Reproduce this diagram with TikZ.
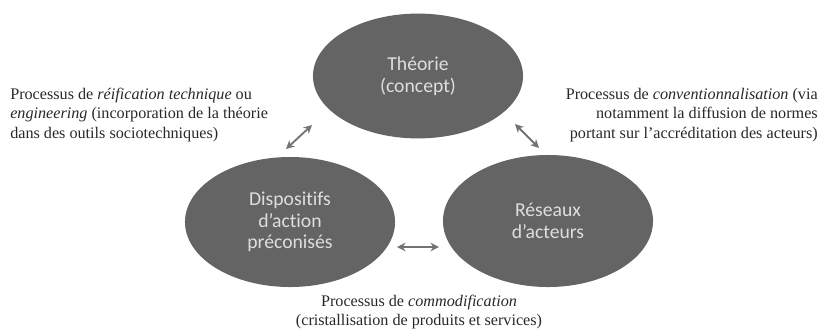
\documentclass[tikz,border=0pt]{standalone}
\usepackage{fontspec}
\setmainfont{Liberation Serif}
\newfontfamily\bulle[Ligatures=CommonOff]{Carlito}
\usetikzlibrary{shapes.geometric, arrows.meta}

\definecolor{grisbulle}{RGB}{100,100,100}
\definecolor{grisfleche}{RGB}{115,115,115}
\definecolor{gristexte}{RGB}{40,40,40}

\begin{document}
\begin{tikzpicture}[x=0.025cm, y=-0.025cm,
        bulle/.style={ellipse, fill=grisbulle, text=black!13, inner sep=0pt,
            minimum width=5.25cm, align=center,
            font=\bulle\fontsize{14}{15.5}\selectfont},
        processus/.style={text=gristexte, inner sep=0pt,
            font=\fontsize{11.5}{13.8}\selectfont},
        fleche/.style={{Stealth[length=6pt,width=6pt]}-{Stealth[length=6pt,width=6pt]},
            grisfleche, line width=1.3pt}]
        % Cadre
        \useasboundingbox (0,0) rectangle (831,332);

        % Bulles
        \node[bulle, minimum height=3.12cm] (theorie) at (418,76) {Théorie\\(concept)};
        \node[bulle, minimum height=3.25cm] (dispositifs) at (290,222) {Dispositifs\\d’action\\préconisés};
        \node[bulle, minimum height=3.3cm] (reseaux) at (548,221) {Réseaux\\d’acteurs};

        % Extremites des fleches
        \coordinate (tg) at (312,125);
        \coordinate (dg) at (286,149);
        \coordinate (td) at (515,124);
        \coordinate (rd) at (539,148);
        \coordinate (db) at (397,247);
        \coordinate (rb) at (439,247);

        % Fleches
        \draw[fleche] (tg) -- (dg);
        \draw[fleche] (td) -- (rd);
        \draw[fleche] (db) -- (rb);

        % Textes des processus
        \node[processus, anchor=west, align=left] (reification) at (10,115)
            {Processus de \textit{réification technique} ou\\
             \textit{engineering} (incorporation de la théorie\\
             dans des outils sociotechniques)};
        \node[processus, anchor=east, align=right] (convention) at (818,115)
            {Processus de \textit{conventionnalisation} (via\\
             notamment la diffusion de normes\\
             portant sur l’accréditation des acteurs)};
        \node[processus, align=center] (commodification) at (419,312)
            {Processus de \textit{commodification}\\
             (cristallisation de produits et services)};
    \end{tikzpicture}
\end{document}
